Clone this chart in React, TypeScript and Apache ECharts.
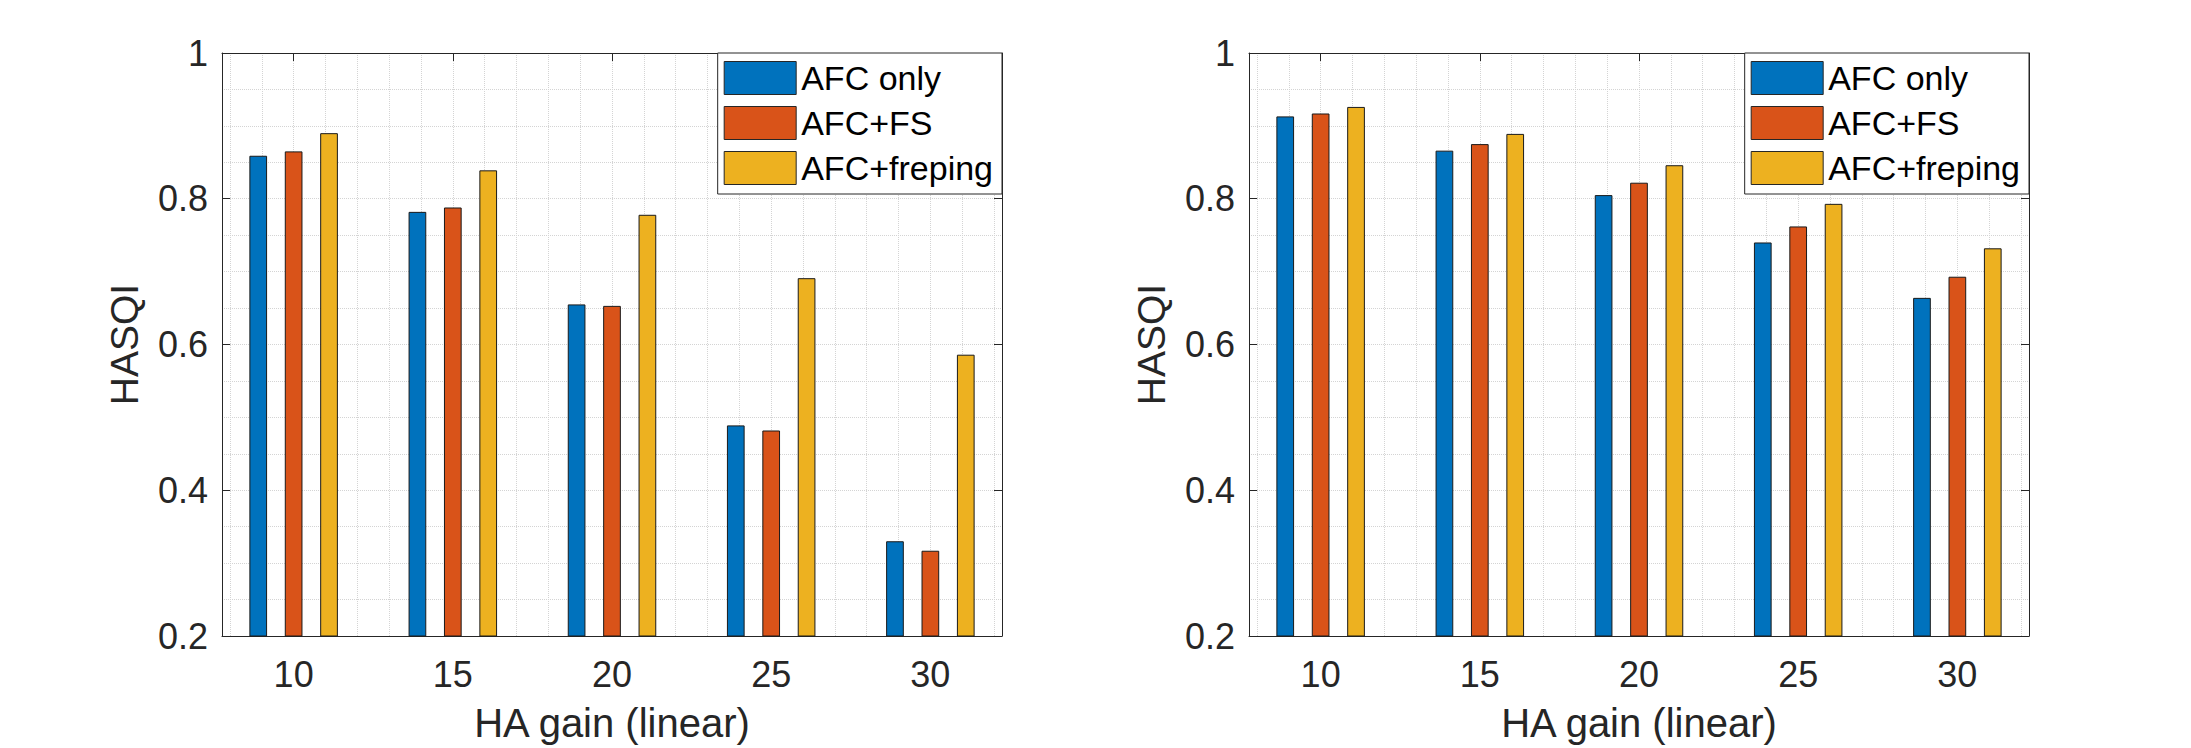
import React, { useEffect, useRef } from 'react';
import * as echarts from 'echarts';

// ---- data ----
const GAINS = [10, 15, 20, 25, 30];
const X_TICKS = [10, 15, 20, 25, 30];
const SERIES_NAMES = ['AFC only', 'AFC+FS', 'AFC+freping'];

const LEFT_AFC_ONLY = [0.859, 0.782, 0.655, 0.489, 0.330];
const LEFT_AFC_FS = [0.865, 0.788, 0.653, 0.482, 0.317];
const LEFT_AFC_FREPING = [0.890, 0.839, 0.778, 0.691, 0.586];

const RIGHT_AFC_ONLY = [0.913, 0.866, 0.805, 0.740, 0.664];
const RIGHT_AFC_FS = [0.917, 0.875, 0.822, 0.762, 0.693];
const RIGHT_AFC_FREPING = [0.926, 0.889, 0.846, 0.793, 0.732];

const X_LABEL = 'HA gain (linear)';
const Y_LABEL = 'HASQI';

// ---- style ----
const COLORS = ['#0072BD', '#D95319', '#EDB120'];
const AX = '#262626';
const GRID = '#d4d4d4';
const FONT = '"Liberation Sans", Arial, Helvetica, sans-serif';
const X_MIN = 7.75;
const X_MAX = 32.25;
const Y_MIN = 0.2;
const Y_MAX = 1;
const Y_STEP = 0.2;
const MINOR_X: number[] = [];
for (let v = 8; v <= 32; v++) MINOR_X.push(v);

const PANELS = [
  { left: 222, legendRight: 1189, values: [LEFT_AFC_ONLY, LEFT_AFC_FS, LEFT_AFC_FREPING] },
  { left: 1249, legendRight: 162, values: [RIGHT_AFC_ONLY, RIGHT_AFC_FS, RIGHT_AFC_FREPING] },
];

function buildOption() {
  const grid: any[] = [];
  const xAxis: any[] = [];
  const yAxis: any[] = [];
  const series: any[] = [];
  const legend: any[] = [];

  PANELS.forEach((p, gi) => {
    grid.push({ left: p.left, top: 53, width: 780, height: 584, containLabel: false });
    const axLine = { show: true, onZero: false, lineStyle: { color: AX, width: 1 } };
    const tick = { show: true, inside: true, length: 8, lineStyle: { color: AX, width: 1 } };
    xAxis.push({
      type: 'value', gridIndex: gi, position: 'bottom', min: X_MIN, max: X_MAX,
      axisLine: axLine,
      axisTick: { ...tick, customValues: X_TICKS },
      axisLabel: { show: true, customValues: X_TICKS, margin: 20, fontSize: 36, color: AX, fontFamily: FONT },
      splitLine: { show: false },
      name: X_LABEL, nameLocation: 'middle', nameGap: 67,
      nameTextStyle: { fontSize: 40, color: AX, fontFamily: FONT },
    });
    xAxis.push({
      type: 'value', gridIndex: gi, position: 'top', min: X_MIN, max: X_MAX,
      axisLine: axLine,
      axisTick: { ...tick, customValues: X_TICKS },
      axisLabel: { show: false, customValues: X_TICKS },
      splitLine: { show: false },
    });
    xAxis.push({
      type: 'value', gridIndex: gi, position: 'bottom', min: X_MIN, max: X_MAX,
      axisLine: { show: false },
      axisTick: { show: false, customValues: MINOR_X },
      axisLabel: { show: false, customValues: MINOR_X },
      splitLine: { show: true, lineStyle: { color: GRID, type: 'dotted', width: 1 } },
    });
    yAxis.push({
      type: 'value', gridIndex: gi, position: 'left', min: Y_MIN, max: Y_MAX, interval: Y_STEP,
      axisLine: axLine,
      axisTick: tick,
      axisLabel: { margin: 14, fontSize: 36, color: AX, fontFamily: FONT },
      splitLine: { show: true, lineStyle: { color: GRID, type: 'dotted', width: 1 } },
      minorTick: { show: false, splitNumber: 4 },
      minorSplitLine: { show: true, lineStyle: { color: GRID, type: 'dotted', width: 1 } },
      name: Y_LABEL, nameLocation: 'middle', nameGap: 78, nameRotate: 90,
      nameTextStyle: { fontSize: 39, color: AX, fontFamily: FONT },
    });
    yAxis.push({
      type: 'value', gridIndex: gi, position: 'right', min: Y_MIN, max: Y_MAX, interval: Y_STEP,
      axisLine: axLine,
      axisTick: tick,
      axisLabel: { show: false },
      splitLine: { show: false },
    });
    p.values.forEach((vals, k) => {
      series.push({
        type: 'bar', name: SERIES_NAMES[k], xAxisIndex: gi * 3, yAxisIndex: gi * 2,
        data: GAINS.map((g, i) => [g, vals[i]]),
        barWidth: 17.7, barGap: '100%', clip: true,
        itemStyle: { color: COLORS[k], borderColor: '#1a1a1a', borderWidth: 1 },
        emphasis: { disabled: true },
      });
    });
    legend.push({
      show: true, orient: 'vertical', right: p.legendRight, top: 53,
      data: SERIES_NAMES, icon: 'rect', itemWidth: 72, itemHeight: 33, itemGap: 11,
      padding: [8, 9, 9, 6], borderColor: AX, borderWidth: 1, backgroundColor: '#ffffff',
      selectedMode: false,
      textStyle: { fontSize: 34, color: '#000', fontFamily: FONT, lineHeight: 33 },
      itemStyle: { borderColor: '#262626', borderWidth: 1 },
    });
  });

  return { animation: false, backgroundColor: '#ffffff', grid, xAxis, yAxis, series, legend };
}

export default function App() {
  const ref = useRef<HTMLDivElement>(null);
  useEffect(() => {
    if (!ref.current) return;
    const chart = echarts.init(ref.current, null, { renderer: 'svg' });
    chart.setOption(buildOption() as any);
    return () => chart.dispose();
  }, []);
  return (
    <div
      ref={ref}
      style={{ position: 'fixed', left: 0, top: 0, width: 2191, height: 748, background: '#fff' }}
    />
  );
}
